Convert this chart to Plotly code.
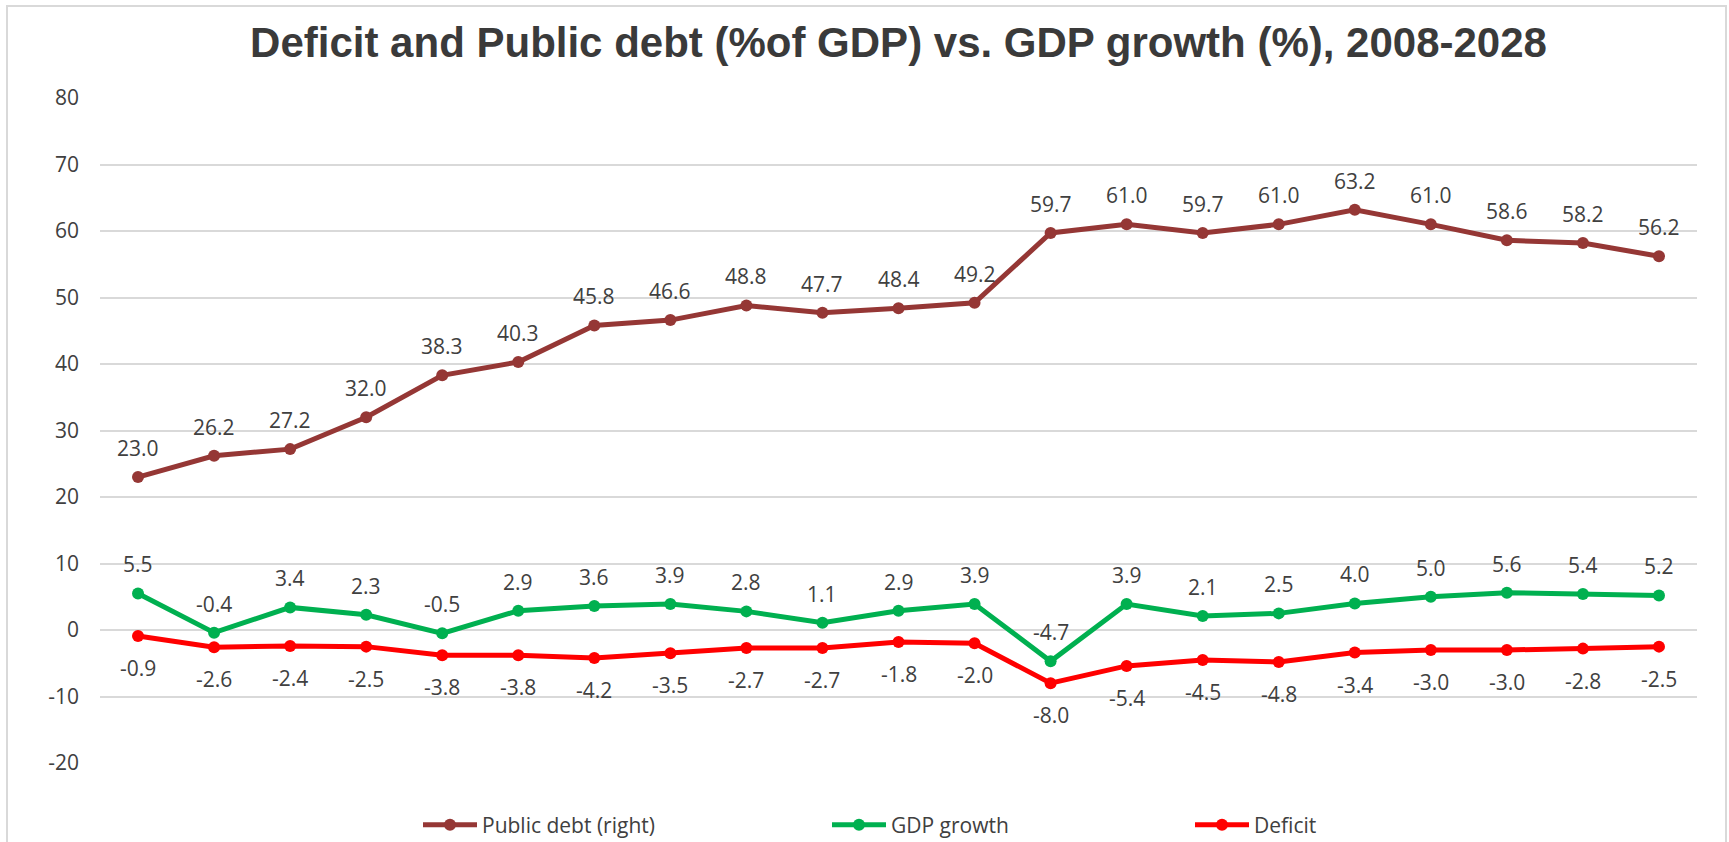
import plotly.graph_objects as go

years = list(range(2008, 2029))
public_debt = [23.0, 26.2, 27.2, 32.0, 38.3, 40.3, 45.8, 46.6, 48.8, 47.7, 48.4,
               49.2, 59.7, 61.0, 59.7, 61.0, 63.2, 61.0, 58.6, 58.2, 56.2]
gdp_growth = [5.5, -0.4, 3.4, 2.3, -0.5, 2.9, 3.6, 3.9, 2.8, 1.1, 2.9,
              3.9, -4.7, 3.9, 2.1, 2.5, 4.0, 5.0, 5.6, 5.4, 5.2]
deficit = [-0.9, -2.6, -2.4, -2.5, -3.8, -3.8, -4.2, -3.5, -2.7, -2.7, -1.8,
           -2.0, -8.0, -5.4, -4.5, -4.8, -3.4, -3.0, -3.0, -2.8, -2.5]
ytick_values = [-20, -10, 0, 10, 20, 30, 40, 50, 60, 70, 80]
ytick_labels = ["-20", "-10", "0", "10", "20", "30", "40", "50", "60", "70", "80"]

W, H = 1729, 842
ML, MR, MT, MB = 100, 32, 98, 79
PW = W - ML - MR
PH = H - MT - MB

def px_to_paper_x(px):
    return (px - ML) / PW

def px_to_paper_y(py):
    return (H - MB - py) / PH

FONT = "Open Sans"
TXT = "#404040"
C_DEBT = "#953735"
C_GDP = "#00B050"
C_DEF = "#FF0000"

fig = go.Figure()
series = [
    ("Public debt (right)", public_debt, C_DEBT, "legend", 29),
    ("GDP growth", gdp_growth, C_GDP, "legend2", 29),
    ("Deficit", deficit, C_DEF, "legend3", -32),
]
annotations = []
for name, vals, col, leg, shift in series:
    fig.add_trace(go.Scatter(
        x=years, y=vals, name=name, mode="lines+markers",
        line=dict(color=col, width=5),
        marker=dict(color=col, size=12, symbol="circle"),
        legend=leg, hoverinfo="skip",
    ))
    for xv, yv in zip(years, vals):
        annotations.append(dict(
            x=xv, y=yv, xref="x", yref="y", text=f"{yv:.1f}", showarrow=False,
            yshift=shift, font=dict(family=FONT, size=21, color=TXT),
        ))

leg_common = dict(orientation="h", yanchor="middle", xanchor="left",
                  font=dict(family=FONT, size=21, color=TXT),
                  bgcolor="rgba(0,0,0,0)", itemwidth=54, borderwidth=0)
ly = px_to_paper_y(825)

fig.update_layout(
    width=W, height=H,
    margin=dict(l=ML, r=MR, t=MT, b=MB, autoexpand=False),
    paper_bgcolor="white", plot_bgcolor="white",
    title=dict(
        text="<b>Deficit and Public debt (%of GDP) vs. GDP growth (%), 2008-2028</b>",
        font=dict(family="Liberation Sans", size=42, color="#3a3a3a"),
        x=0.5, xref="paper", xanchor="center",
        y=1 - 42 / H, yref="container", yanchor="middle",
    ),
    xaxis=dict(range=[2007.5, 2028.5], showgrid=False,
               showticklabels=False, showline=False, zeroline=False, ticks=""),
    yaxis=dict(range=[-20, 80], tickvals=ytick_values, ticktext=ytick_labels,
               showgrid=True, gridcolor="#d9d9d9", gridwidth=2, zeroline=True,
               zerolinecolor="#d9d9d9", zerolinewidth=2, showline=False,
               ticks="", ticklabelstandoff=20,
               tickfont=dict(family=FONT, size=21, color=TXT)),
    legend=dict(x=px_to_paper_x(418), y=ly, **leg_common),
    legend2=dict(x=px_to_paper_x(827), y=ly, **leg_common),
    legend3=dict(x=px_to_paper_x(1190), y=ly, **leg_common),
    annotations=annotations,
    shapes=[dict(type="rect", xref="paper", yref="paper",
                 x0=px_to_paper_x(7), x1=px_to_paper_x(1726),
                 y0=px_to_paper_y(860), y1=px_to_paper_y(6),
                 line=dict(color="#d9d9d9", width=2), fillcolor="rgba(0,0,0,0)",
                 layer="below")],
    showlegend=True,
)

fig.write_html("out.html")
